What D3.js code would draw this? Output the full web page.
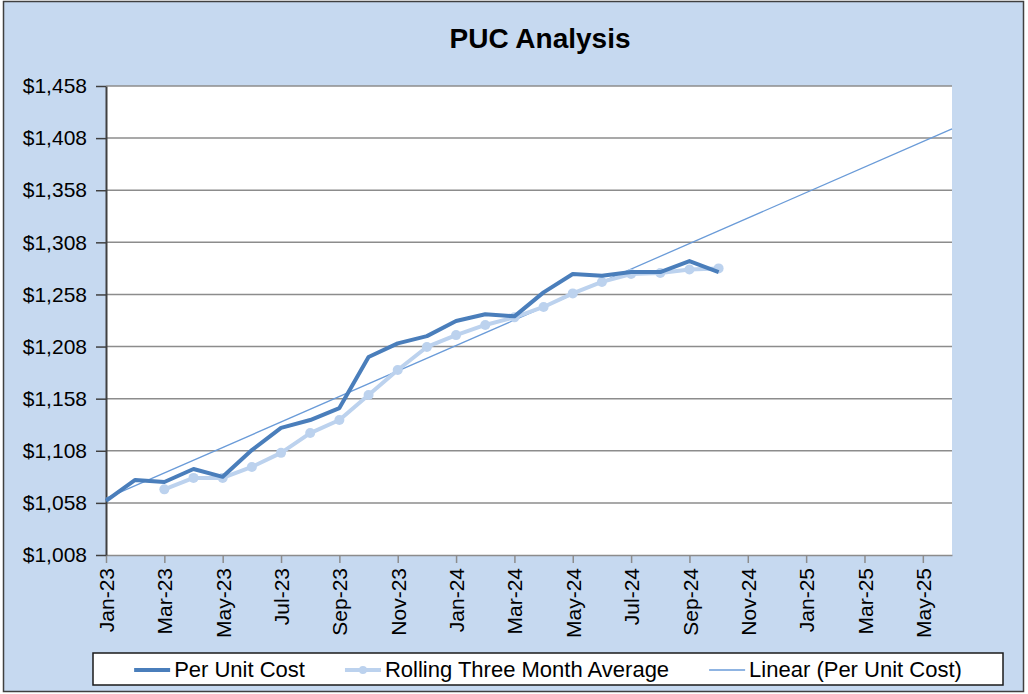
<!DOCTYPE html>
<html>
<head>
<meta charset="utf-8">
<script src="https://cdn.jsdelivr.net/npm/d3@7"></script>
<style>
	body { margin: 0; background: #ffffff; }
	svg { display: block; font-family: "Liberation Sans", Arial, sans-serif; }
</style>
</head>
<body>
<svg id="chart" width="1028" height="694"></svg>
<script>
// month categories on the date axis (Jan-23 .. Jun-25)
let months = ["Jan-23", "Feb-23", "Mar-23", "Apr-23", "May-23", "Jun-23", "Jul-23", "Aug-23", "Sep-23", "Oct-23", "Nov-23", "Dec-23",
	"Jan-24", "Feb-24", "Mar-24", "Apr-24", "May-24", "Jun-24", "Jul-24", "Aug-24", "Sep-24", "Oct-24", "Nov-24", "Dec-24",
	"Jan-25", "Feb-25", "Mar-25", "Apr-25", "May-25", "Jun-25"];

// labelled ticks on the x axis
let xTickLabels = ["Jan-23", "Mar-23", "May-23", "Jul-23", "Sep-23", "Nov-23", "Jan-24", "Mar-24", "May-24", "Jul-24",
	"Sep-24", "Nov-24", "Jan-25", "Mar-25", "May-25"];

// per unit cost, Jan-23 .. Oct-24
let perUnitCost = [1060, 1080, 1078, 1090.5, 1083, 1108.7, 1130, 1137.5, 1149, 1198, 1211, 1218,
	1232.5, 1239, 1237, 1260, 1277.6, 1276, 1279.5, 1279.5, 1290, 1279.5];

// rolling three month average (starts in Mar-23)
let rollingAvg = [null, null, 1071, 1082, 1082, 1092.5, 1106, 1125, 1137.5, 1161.5, 1185.5, 1207.6,
	1219, 1228.7, 1236, 1246, 1259, 1270, 1277.6, 1278.6, 1282, 1283];

let yTicks = [1008, 1058, 1108, 1158, 1208, 1258, 1308, 1358, 1408, 1458];

let legendLabels = ["Per Unit Cost", "Rolling Three Month Average", "Linear (Per Unit Cost)"];

// colours
let darkBlue = "#4a7ebb";
let lightBlue = "#bcd2ee";
let trendBlue = "#6a9bd8";

let svg = d3.select("#chart");

// set plot dimensions
let plot = { left: 106, right: 952, top: 86, bottom: 555 };

// chart background + border
svg.append("rect")
	.attr("x", 3.5).attr("y", 1.5)
	.attr("width", 1020).attr("height", 690)
	.attr("fill", "#c6d9f0")
	.attr("stroke", "#404040")
	.attr("stroke-width", 1.5);

svg.append("rect")
	.attr("x", plot.left).attr("y", plot.top)
	.attr("width", plot.right - plot.left)
	.attr("height", plot.bottom - plot.top)
	.attr("fill", "#ffffff");

// title
svg.append("text")
	.attr("x", 540).attr("y", 48)
	.attr("text-anchor", "middle")
	.style("font-size", "28px")
	.style("font-weight", "bold")
	.style("fill", "#000")
	.text("PUC Analysis");

// set the ranges
let x = d3.scalePoint().domain(months).range([plot.left, plot.right]);
let y = d3.scaleLinear().domain([yTicks[0], yTicks[yTicks.length - 1]]).range([plot.bottom, plot.top]);

// gridlines
svg.append("g")
	.selectAll("line")
	.data(yTicks.slice(1))
	.join("line")
	.attr("x1", plot.left).attr("x2", plot.right)
	.attr("y1", d => y(d)).attr("y2", d => y(d))
	.attr("stroke", "#8c8c8c")
	.attr("stroke-width", 1.5);

// x axis
let xAxis = svg.append("g")
	.attr("transform", "translate(0," + plot.bottom + ")")
	.call(d3.axisBottom(x).tickValues(xTickLabels).tickSize(8).tickSizeOuter(0));

xAxis.select(".domain").attr("stroke", "#8c8c8c").attr("stroke-width", 1.5);
xAxis.selectAll(".tick line").attr("stroke", "#8c8c8c").attr("stroke-width", 1.5);
xAxis.selectAll(".tick text")
	.style("font-size", "21px")
	.style("fill", "#000")
	.attr("font-family", null)
	.attr("text-anchor", "end")
	.attr("transform", "rotate(-90)")
	.attr("x", -13)
	.attr("y", 0)
	.attr("dy", "0.36em");

// y axis
let yAxis = svg.append("g")
	.attr("transform", "translate(" + plot.left + ",0)")
	.call(d3.axisLeft(y).tickValues(yTicks).tickSize(10).tickSizeOuter(0)
		.tickFormat(d => "$" + d3.format(",")(d)));

yAxis.select(".domain").attr("stroke", "#404040").attr("stroke-width", 2);
yAxis.selectAll(".tick line").attr("stroke", "#404040").attr("stroke-width", 1.5);
yAxis.selectAll(".tick text")
	.style("font-size", "21px")
	.style("fill", "#000")
	.attr("font-family", null)
	.attr("x", -19);

// linear trend of per unit cost (least squares, like the spreadsheet trendline)
let idx = perUnitCost.map((d, i) => i);
let mx = d3.mean(idx), my = d3.mean(perUnitCost);
let slope = d3.sum(idx, i => (i - mx) * (perUnitCost[i] - my)) / d3.sum(idx, i => (i - mx) * (i - mx));
let intercept = my - slope * mx;

svg.append("line")
	.attr("x1", x(months[0]))
	.attr("y1", y(intercept))
	.attr("x2", x(months[months.length - 1]))
	.attr("y2", y(intercept + slope * (months.length - 1)))
	.attr("stroke", trendBlue)
	.attr("stroke-width", 1.3);

// define the line
let line = d3.line()
	.defined(d => d.v != null)
	.x(d => x(d.m))
	.y(d => y(d.v));

let rollData = rollingAvg.map((v, i) => ({ m: months[i], v: v }));
let costData = perUnitCost.map((v, i) => ({ m: months[i], v: v }));

svg.append("path")
	.attr("fill", "none")
	.attr("stroke", lightBlue)
	.attr("stroke-width", 4)
	.attr("stroke-linejoin", "round")
	.attr("d", line(rollData));

svg.append("g")
	.selectAll("circle")
	.data(rollData.filter(d => d.v != null))
	.join("circle")
	.attr("cx", d => x(d.m))
	.attr("cy", d => y(d.v))
	.attr("r", 5)
	.attr("fill", lightBlue);

svg.append("path")
	.attr("fill", "none")
	.attr("stroke", darkBlue)
	.attr("stroke-width", 4)
	.attr("stroke-linejoin", "round")
	.attr("d", line(costData));

// legend
let legend = svg.append("g");

legend.append("rect")
	.attr("x", 93).attr("y", 653)
	.attr("width", 910).attr("height", 32)
	.attr("fill", "#ffffff")
	.attr("stroke", "#1a1a1a")
	.attr("stroke-width", 1.5);

let legendItems = legend.selectAll("g.item")
	.data(legendLabels)
	.join("g")
	.attr("class", "item");

legendItems.append("text")
	.attr("x", 40)
	.attr("y", 677)
	.style("font-size", "22px")
	.style("fill", "#000")
	.text(d => d);

let widths = [];
legendItems.selectAll("text").each(function () { widths.push(this.getComputedTextLength()); });

let itemWidth = widths.map(w => 40 + w);
let gap = 40;
let total = d3.sum(itemWidth) + gap * (itemWidth.length - 1);
let startX = 93 + (910 - total) / 2;
let offsets = [];
itemWidth.reduce((acc, w) => { offsets.push(acc); return acc + w + gap; }, startX);

legendItems.attr("transform", (d, i) => "translate(" + offsets[i] + ",0)");

let legendStroke = [darkBlue, lightBlue, trendBlue];
let legendWidth = [4, 4, 1.3];

legendItems.append("line")
	.attr("x1", 0).attr("x2", 36)
	.attr("y1", 670).attr("y2", 670)
	.attr("stroke", (d, i) => legendStroke[i])
	.attr("stroke-width", (d, i) => legendWidth[i]);

legendItems.filter((d, i) => i === 1)
	.append("circle")
	.attr("cx", 18).attr("cy", 670)
	.attr("r", 4)
	.attr("fill", lightBlue);
</script>
</body>
</html>
